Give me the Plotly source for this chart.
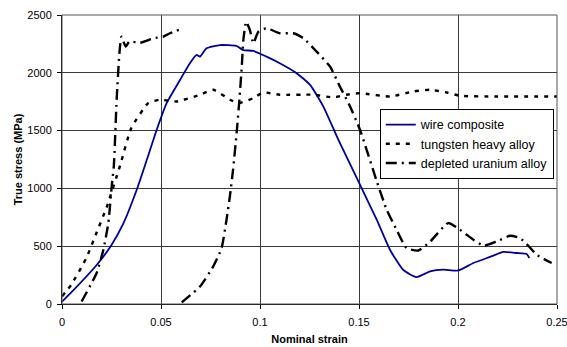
import plotly.graph_objects as go

wire_x = [0, 0.0047, 0.0175, 0.025, 0.031, 0.0377, 0.0428, 0.0478, 0.0529, 0.0596, 0.0646, 0.068, 0.0697,
          0.073, 0.0798, 0.088, 0.0916, 0.0966, 0.1033, 0.110, 0.1185, 0.1253, 0.132, 0.1396, 0.1497,
          0.159, 0.1657, 0.1724, 0.179, 0.1859, 0.1926, 0.2002, 0.2078, 0.2162, 0.2229, 0.2297, 0.2347, 0.236]
wire_y = [20, 100, 337, 510, 697, 986, 1245, 1505, 1739, 1938, 2083, 2155, 2140,
          2212, 2240, 2232, 2197, 2189, 2140, 2083, 1997, 1895, 1708, 1420, 1060,
          727, 467, 294, 233, 282, 297, 290, 355, 407, 450, 441, 433, 398]

wha_x = [0, 0.0047, 0.0123, 0.0175, 0.0225, 0.0293, 0.035, 0.0436, 0.0494, 0.0579, 0.0697, 0.0764,
         0.0848, 0.089, 0.0966, 0.1017, 0.110, 0.127, 0.137, 0.1437, 0.1505, 0.1657, 0.1775, 0.186,
         0.1943, 0.201, 0.2196, 0.25]
wha_y = [66, 167, 398, 619, 835, 1195, 1522, 1738, 1767, 1752, 1810, 1853,
         1767, 1738, 1781, 1830, 1810, 1810, 1787, 1810, 1824, 1795, 1839, 1853,
         1830, 1801, 1795, 1795]

du_x = [0.0099, 0.0175, 0.0209, 0.0234, 0.0251, 0.0262, 0.0276, 0.029, 0.030, 0.0322, 0.034, 0.0394,
        0.0461, 0.0512, 0.0545, 0.0596, None,
        0.0605, 0.0697, 0.0764, 0.0806, 0.0831, 0.0848, 0.0864, 0.0882, 0.0896, 0.0908, 0.0916, 0.093,
        0.0949, 0.0966, 0.0992, 0.1033, 0.110, 0.1168, 0.122, 0.1286, 0.1354, 0.1404, 0.1455, 0.1505,
        0.159, 0.164, 0.169, 0.174, 0.18, 0.186, 0.195, 0.201, 0.2078, 0.2129, 0.2196, 0.2263, 0.2313,
        0.2355, 0.2397, 0.2473]
du_y = [22, 268, 470, 700, 1017, 1200, 1767, 2170, 2313, 2226, 2270, 2260,
        2298, 2313, 2342, 2376, None,
        14, 152, 325, 484, 730, 932, 1162, 1480, 1767, 2055, 2284, 2442,
        2370, 2255, 2356, 2385, 2342, 2342, 2298, 2183, 2053, 1880, 1708, 1507,
        1060, 815, 642, 484, 463, 541, 700, 642, 556, 504, 541, 590, 570,
        504, 426, 355]

x_ticks = [0, 0.05, 0.1, 0.15, 0.2, 0.25]
x_tick_labels = ["0", "0.05", "0.1", "0.15", "0.2", "0.25"]
y_ticks = [0, 500, 1000, 1500, 2000, 2500]

FONT = "Liberation Sans, Arial"

fig = go.Figure()
fig.add_trace(go.Scatter(x=wire_x, y=wire_y, mode="lines", name="wire composite",
                         line=dict(color="#000099", width=1.8, shape="spline", smoothing=0.5)))
fig.add_trace(go.Scatter(x=wha_x, y=wha_y, mode="lines", name="tungsten heavy alloy",
                         line=dict(color="black", width=2.4, dash="4px,6px", shape="spline", smoothing=0.5)))
fig.add_trace(go.Scatter(x=du_x, y=du_y, mode="lines", name="depleted uranium alloy",
                         line=dict(color="black", width=2.4, dash="11px,5px,2px,5px", shape="spline", smoothing=0.5)))

axis_common = dict(showgrid=True, gridcolor="#3a3a3a", gridwidth=1, zeroline=False,
                   showline=True, linecolor="black", linewidth=1, ticks="outside", ticklen=4,
                   tickcolor="black", mirror=False, automargin=False, ticklabeloverflow="allow",
                   tickfont=dict(family=FONT, size=11, color="black"))
fig.update_xaxes(range=[0, 0.25], tickvals=x_ticks, ticktext=x_tick_labels, ticklabelstandoff=4,
                 title=dict(text="<b>Nominal strain</b>", standoff=8,
                            font=dict(family=FONT, size=11, color="black")),
                 **axis_common)
fig.update_yaxes(range=[0, 2500], tickvals=y_ticks, ticklabelstandoff=3,
                 title=dict(text="<b>True stress (MPa)</b>", standoff=2,
                            font=dict(family=FONT, size=11, color="black")),
                 **axis_common)
fig.add_shape(type="rect", xref="paper", yref="paper", x0=0, y0=0, x1=1, y1=1,
              line=dict(color="#555555", width=1), layer="above")

fig.update_layout(
    width=567, height=347,
    margin=dict(l=62, r=10, t=15, b=43),
    paper_bgcolor="white", plot_bgcolor="white",
    font=dict(family=FONT, size=11, color="black"),
    legend=dict(x=0.642, y=0.675, xanchor="left", yanchor="top",
                bgcolor="white", bordercolor="black", borderwidth=1,
                font=dict(family=FONT, size=12.5, color="black"),
                tracegroupgap=0, itemwidth=30),
    showlegend=True,
)
fig.write_html("out.html", config={"displayModeBar": False},
               post_script="document.body.style.margin='0';document.body.style.overflow='hidden';")
